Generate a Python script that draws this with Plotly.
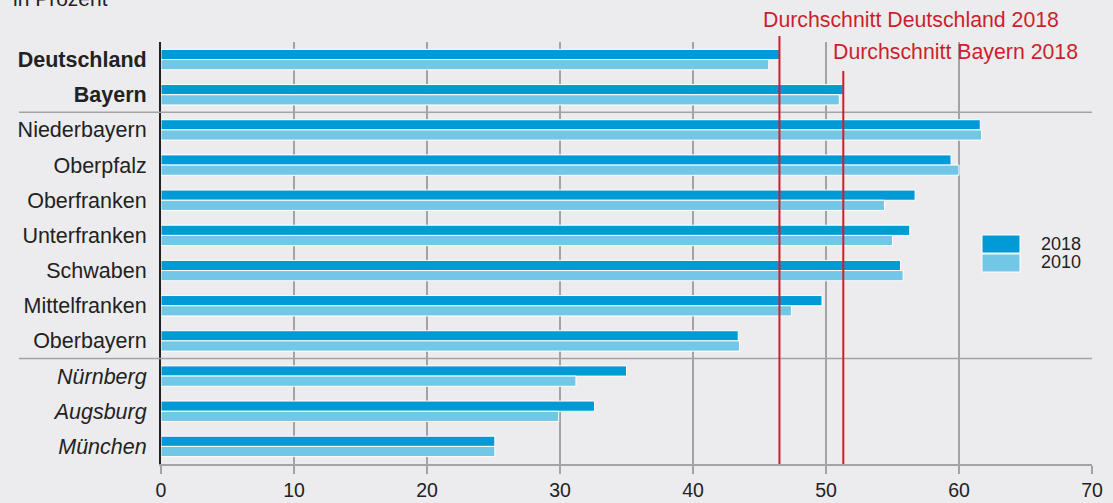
import plotly.graph_objects as go

# Share of ... in Prozent, regions of Bavaria vs. Germany
categories = ["Deutschland", "Bayern", "Niederbayern", "Oberpfalz", "Oberfranken",
              "Unterfranken", "Schwaben", "Mittelfranken", "Oberbayern",
              "Nürnberg", "Augsburg", "München"]
tick_labels = ["<b>Deutschland</b>", "<b>Bayern</b>", "Niederbayern", "Oberpfalz",
               "Oberfranken", "Unterfranken", "Schwaben", "Mittelfranken", "Oberbayern",
               "<i>Nürnberg</i>", "<i>Augsburg</i>", "<i>München</i>"]
values_2018 = [46.5, 51.3, 61.6, 59.4, 56.7, 56.3, 55.6, 49.7, 43.4, 35.0, 32.6, 25.1]
values_2010 = [45.7, 51.0, 61.7, 60.0, 54.4, 55.0, 55.8, 47.4, 43.5, 31.2, 29.9, 25.1]
avg_deutschland_2018 = 46.5
avg_bayern_2018 = 51.3
x_ticks = [0, 10, 20, 30, 40, 50, 60, 70]

BG = "#ececee"
DARK = "#009ad6"
LIGHT = "#72c6e6"
RED = "#cc1f2d"
GRID = "#a3a3a5"
FONT = "Liberation Sans, Arial, sans-serif"

fig = go.Figure()
fig.add_trace(go.Bar(y=categories, x=values_2018, orientation="h", name="2018",
                     marker=dict(color=DARK, line=dict(color="white", width=1))))
fig.add_trace(go.Bar(y=categories, x=values_2010, orientation="h", name="2010",
                     marker=dict(color=LIGHT, line=dict(color="white", width=1))))

# plot area in pixels: x 161..1092, y 42..464
L, R, T, B = 161, 1092, 42, 464


def px(xp):
    return (xp - L) / (R - L)


def py(yp):
    return (B - yp) / (B - T)


shapes = []
# separators between country / state / regions / cities
for yv in (1.5, 8.5):
    shapes.append(dict(type="line", xref="paper", yref="y", x0=px(19), x1=1,
                       y0=yv, y1=yv, line=dict(color=GRID, width=1.5), layer="above"))
# background patch behind the Bayern average label
shapes.append(dict(type="rect", xref="paper", yref="paper", x0=px(821), x1=px(1087),
                   y0=py(71), y1=1.0, fillcolor=BG, line=dict(width=0), layer="between"))
# average lines
shapes.append(dict(type="line", xref="x", yref="paper", x0=avg_deutschland_2018,
                   x1=avg_deutschland_2018, y0=0, y1=py(36),
                   line=dict(color=RED, width=2), layer="above"))
shapes.append(dict(type="line", xref="x", yref="paper", x0=avg_bayern_2018,
                   x1=avg_bayern_2018, y0=0, y1=py(71),
                   line=dict(color=RED, width=2), layer="above"))
# legend swatches
shapes.append(dict(type="rect", xref="paper", yref="paper", x0=px(982), x1=px(1020),
                   y0=py(253), y1=py(235), fillcolor=DARK,
                   line=dict(color="white", width=1), layer="above"))
shapes.append(dict(type="rect", xref="paper", yref="paper", x0=px(982), x1=px(1020),
                   y0=py(272), y1=py(254), fillcolor=LIGHT,
                   line=dict(color="white", width=1), layer="above"))

annotations = [
    dict(text="Durchschnitt Deutschland 2018", xref="paper", yref="paper",
         x=px(1061), y=py(20), xanchor="right", yanchor="middle", showarrow=False,
         font=dict(family=FONT, size=21.3, color=RED)),
    dict(text="Durchschnitt Bayern 2018", xref="paper", yref="paper",
         x=px(1080), y=py(52), xanchor="right", yanchor="middle", showarrow=False,
         font=dict(family=FONT, size=21.3, color=RED)),
    dict(text="2018", xref="paper", yref="paper", x=px(1039), y=py(244),
         xanchor="left", yanchor="middle", showarrow=False,
         font=dict(family=FONT, size=18, color="#222")),
    dict(text="2010", xref="paper", yref="paper", x=px(1039), y=py(262),
         xanchor="left", yanchor="middle", showarrow=False,
         font=dict(family=FONT, size=18, color="#222")),
    dict(text="in Prozent", xref="paper", yref="paper", x=px(11), y=py(-2),
         xanchor="left", yanchor="middle", showarrow=False,
         font=dict(family=FONT, size=21, color="#222")),
]

fig.update_layout(
    width=1113, height=503,
    margin=dict(l=L, r=1113 - R, t=T, b=503 - B, pad=0, autoexpand=False),
    paper_bgcolor=BG, plot_bgcolor=BG,
    barmode="group", bargap=0.42, bargroupgap=0,
    showlegend=False,
    shapes=shapes, annotations=annotations,
    font=dict(family=FONT, color="#222"),
    xaxis=dict(range=[0, 70], tickvals=x_ticks, ticktext=[str(v) for v in x_ticks],
               automargin=False,
               showgrid=True, gridcolor=GRID, gridwidth=1.5, zeroline=False,
               showline=True, linecolor=GRID, linewidth=2,
               ticks="outside", ticklen=8, tickcolor=GRID, tickwidth=1.5,
               ticklabelstandoff=0,
               tickfont=dict(family=FONT, size=19.5, color="#222")),
    yaxis=dict(type="category", categoryorder="array", categoryarray=categories,
               tickvals=categories, ticktext=tick_labels, automargin=False,
               range=[len(categories) - 0.5, -0.5],
               showgrid=False, zeroline=False, showline=True, linecolor="#222",
               linewidth=2, ticks="", ticklabelstandoff=8,
               tickfont=dict(family=FONT, size=21.5, color="#222")),
)

fig.write_html("out.html")
